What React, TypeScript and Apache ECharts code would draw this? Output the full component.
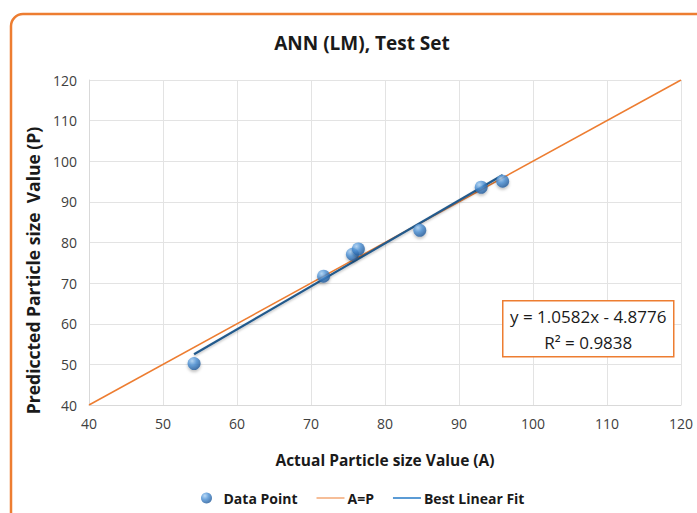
import React, { useEffect, useRef } from "react";
import * as echarts from "echarts";

const actual = [54.2, 71.7, 75.6, 76.4, 84.7, 93.0, 95.9];
const predicted = [50.2, 71.7, 77.1, 78.4, 83.0, 93.6, 95.1];
const identityLine = [[40, 40], [120, 120]];
const fitSlope = 1.0582;
const fitIntercept = -4.8776;
const fitRange = [54.2, 95.9];
const equationText = "y = 1.0582x - 4.8776";
const r2Text = "R² = 0.9838";
const titleText = "ANN (LM), Test Set";
const xName = "Actual Particle size Value (A)";
const yName = "Prediccted Particle size  Value (P)";

export default function App() {
  const ref = useRef<HTMLDivElement>(null);
  useEffect(() => {
    document.body.style.margin = "0";
    const chart = echarts.init(ref.current!, null, { renderer: "svg" });
    const fitLine = fitRange.map((x) => [x, fitSlope * x + fitIntercept]);
    const font = "'Open Sans', 'Noto Sans', sans-serif";
    const thinPath = "path://M0,0H28V1H0Z";
    const thickPath = "path://M0,0H28V2H0Z";
    chart.setOption({
      animation: false,
      backgroundColor: "#ffffff",
      title: {
        text: titleText,
        left: 357,
        top: 28,
        textAlign: "center",
        textStyle: { fontFamily: font, fontSize: 19, fontWeight: "bold", color: "#1a1a1a" },
      },
      grid: { left: 89, right: 16, top: 80, bottom: 108 },
      xAxis: {
        type: "value",
        min: 40,
        max: 120,
        interval: 10,
        name: xName,
        nameLocation: "middle",
        nameGap: 47,
        nameTextStyle: { fontFamily: font, fontSize: 15.5, fontWeight: "bold", color: "#1a1a1a" },
        axisLine: { show: true, lineStyle: { color: "#d9d9d9" } },
        axisTick: { show: false },
        axisLabel: { fontFamily: font, fontSize: 14, color: "#404040", margin: 11 },
        splitLine: { show: true, lineStyle: { color: "#e3e3e3" } },
      },
      yAxis: {
        type: "value",
        min: 40,
        max: 120,
        interval: 10,
        name: yName,
        nameLocation: "middle",
        nameGap: 45,
        nameTextStyle: {
          fontFamily: font,
          fontSize: 17.5,
          fontWeight: "bold",
          color: "#1a1a1a",
          padding: [0, 56, 0, 0],
        },
        axisLine: { show: true, lineStyle: { color: "#d9d9d9" } },
        axisTick: { show: false },
        axisLabel: { fontFamily: font, fontSize: 14, color: "#404040", margin: 12 },
        splitLine: { show: true, lineStyle: { color: "#e3e3e3" } },
      },
      legend: {
        left: 196,
        top: 486,
        itemGap: 19,
        itemWidth: 28,
        itemHeight: 11,
        textStyle: { fontFamily: font, fontSize: 14, fontWeight: "bold", color: "#1a1a1a", padding: [0, 0, 0, -2] },
        data: [
          { name: "Data Point", icon: "circle" },
          { name: "A=P", icon: thinPath, itemStyle: { color: "#ED7D31", borderWidth: 0 }, lineStyle: { width: 0, color: "#ED7D31" } },
          { name: "Best Linear Fit", icon: thickPath, itemStyle: { color: "#5B9BD5", borderWidth: 0 }, lineStyle: { width: 0, color: "#5B9BD5" } },
        ],
      },
      series: [
        {
          name: "A=P",
          type: "line",
          data: identityLine,
          symbol: "none",
          lineStyle: { color: "#ED7D31", width: 1.5 },
          itemStyle: { color: "#ED7D31" },
          z: 2,
        },
        {
          name: "Best Linear Fit",
          type: "line",
          data: fitLine,
          symbol: "none",
          lineStyle: {
            color: "#235a8c",
            width: 2.2,
            shadowColor: "rgba(0,0,0,0.25)",
            shadowBlur: 2,
            shadowOffsetY: 1.5,
          },
          itemStyle: { color: "#5B9BD5" },
          z: 3,
        },
        {
          name: "Data Point",
          type: "scatter",
          data: actual.map((x, i) => [x, predicted[i]]),
          symbol: "circle",
          symbolSize: 13,
          itemStyle: {
            color: new echarts.graphic.RadialGradient(0.35, 0.3, 0.75, [
              { offset: 0, color: "#a8d0f4" },
              { offset: 0.45, color: "#4a8fd4" },
              { offset: 1, color: "#1d5595" },
            ]),
            shadowColor: "rgba(0,0,0,0.3)",
            shadowBlur: 3,
            shadowOffsetY: 2,
          },
          z: 4,
        },
      ],
      graphic: [
        {
          type: "rect",
          shape: { x: 11, y: 14, width: 710, height: 530, r: 12 },
          style: { fill: "none", stroke: "#ED7D31", lineWidth: 2.5 },
          silent: true,
        },
        {
          type: "group",
          left: 502,
          top: 300,
          z: 100,
          children: [
            {
              type: "rect",
              z: 100,
              shape: { x: 0, y: 0, width: 171, height: 56 },
              style: { fill: "#ffffff", stroke: "#ED7D31", lineWidth: 1.5 },
            },
            {
              type: "text",
              z: 101,
              x: 85.5,
              y: 16,
              style: { text: equationText, fontFamily: font, fontSize: 17, fill: "#1a1a1a", align: "center", verticalAlign: "middle" },
            },
            {
              type: "text",
              z: 101,
              x: 85.5,
              y: 42,
              style: { text: r2Text, fontFamily: font, fontSize: 17, fill: "#1a1a1a", align: "center", verticalAlign: "middle" },
            },
          ],
        },
      ],
    });
    return () => chart.dispose();
  }, []);
  return <div ref={ref} style={{ width: 697, height: 513 }} />;
}
